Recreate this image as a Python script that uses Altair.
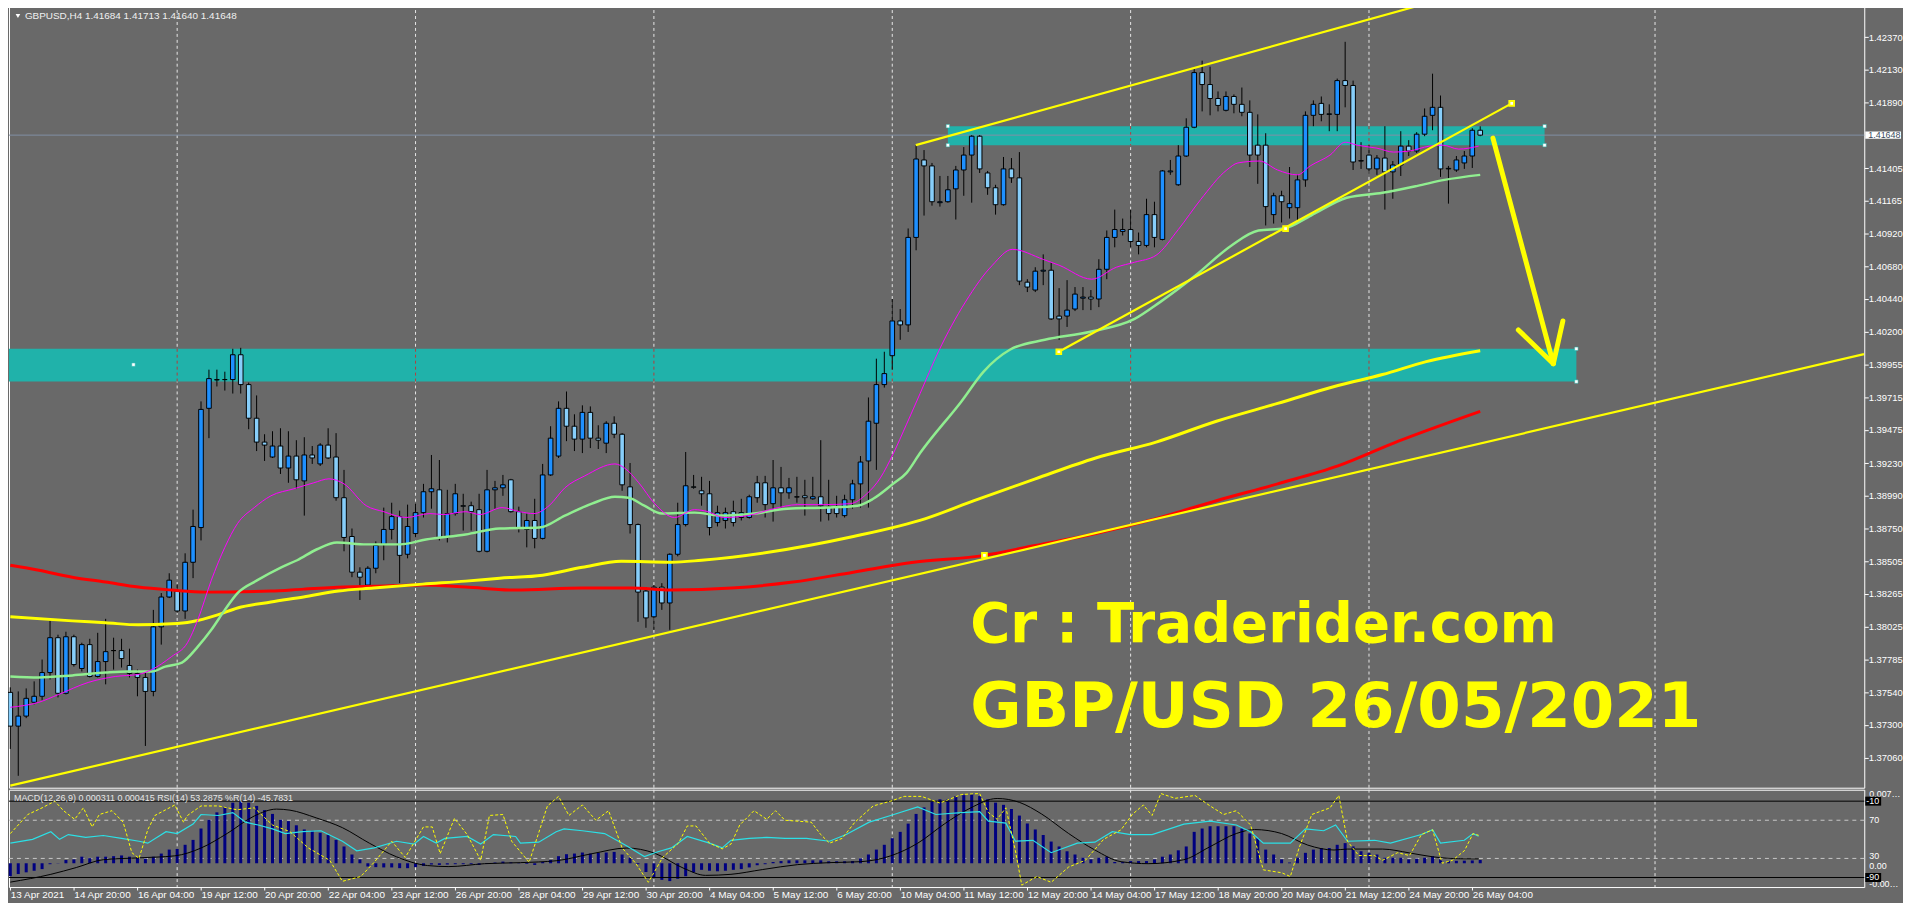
import altair as alt
import pandas as pd

# ---------------- candles (GBPUSD H4), bar index 0 = 13 Apr 2021 12:00 ----------------
OPEN = [1.37540, 1.37291, 1.37365, 1.37467, 1.37511, 1.37686, 1.37943, 1.37533, 1.37950, 1.37716,
        1.37892, 1.37657, 1.37767, 1.37848, 1.37848, 1.37738, 1.37679, 1.37650, 1.37547, 1.38023,
        1.38243, 1.38287, 1.38140, 1.38499, 1.38755, 1.39634, 1.39846, 1.39846, 1.39846, 1.40029,
        1.39809, 1.39561, 1.39385, 1.39275, 1.39356, 1.39194, 1.39282, 1.39099, 1.39290, 1.39224,
        1.39363, 1.39275, 1.38975, 1.38689, 1.38426, 1.38331, 1.38455, 1.38631, 1.38741, 1.38836,
        1.38558, 1.38711, 1.38865, 1.39019, 1.39033, 1.38682, 1.38858, 1.38916, 1.38916, 1.38887,
        1.38580, 1.39033, 1.39048, 1.39107, 1.38872, 1.38741, 1.38807, 1.38675, 1.39143, 1.39282,
        1.39634, 1.39502, 1.39407, 1.39604, 1.39414, 1.39377, 1.39524, 1.39443, 1.39055, 1.38777,
        1.38287, 1.38097, 1.38316, 1.38199, 1.38558, 1.38777, 1.39055, 1.39026, 1.39004, 1.38792,
        1.38807, 1.38872, 1.38829, 1.38829, 1.39085, 1.39085, 1.38931, 1.39048, 1.39011, 1.38982,
        1.38989, 1.38967, 1.38982, 1.38909, 1.38909, 1.38843, 1.38960, 1.39077, 1.39246, 1.39524,
        1.39809, 1.40022, 1.40278, 1.40249, 1.40894, 1.41465, 1.41421, 1.41150, 1.41157, 1.41252,
        1.41391, 1.41501, 1.41640, 1.41369, 1.41260, 1.41135, 1.41399, 1.41333, 1.40564, 1.40506,
        1.40645, 1.40652, 1.40314, 1.40314, 1.40366, 1.40446, 1.40454, 1.40440, 1.40659, 1.40894,
        1.40938, 1.40952, 1.40864, 1.40835, 1.41062, 1.40879, 1.41377, 1.41282, 1.41494, 1.41706,
        1.42109, 1.42021, 1.41918, 1.41831, 1.41933, 1.41875, 1.41816, 1.41574, 1.41574, 1.41062,
        1.41201, 1.41113, 1.41113, 1.41318, 1.41794, 1.41882, 1.41801, 1.41801, 1.42050, 1.42014,
        1.41457, 1.41501, 1.41399, 1.41479, 1.41377, 1.41428, 1.41567, 1.41531, 1.41655, 1.41794,
        1.41853, 1.41399, 1.41391, 1.41443, 1.41494, 1.41684]
HIGH = [1.37577, 1.37547, 1.37569, 1.37621, 1.37782, 1.38067, 1.37965, 1.37987, 1.37965, 1.37906,
        1.37935, 1.37979, 1.38082, 1.37943, 1.37935, 1.37862, 1.37708, 1.37686, 1.38148, 1.38272,
        1.38418, 1.38338, 1.38565, 1.38887, 1.39685, 1.39919, 1.39919, 1.39904, 1.40073, 1.40080,
        1.39824, 1.39729, 1.39443, 1.39465, 1.39487, 1.39465, 1.39399, 1.39421, 1.39356, 1.39377,
        1.39487, 1.39451, 1.39180, 1.38748, 1.38462, 1.38470, 1.38653, 1.38902, 1.38938, 1.38880,
        1.38924, 1.38931, 1.39077, 1.39290, 1.39253, 1.39033, 1.39077, 1.39004, 1.38946, 1.39004,
        1.39180, 1.39099, 1.39143, 1.39114, 1.38909, 1.38858, 1.38967, 1.39224, 1.39502, 1.39685,
        1.39758, 1.39590, 1.39656, 1.39648, 1.39509, 1.39539, 1.39575, 1.39451, 1.39231, 1.38785,
        1.38316, 1.38331, 1.38345, 1.38565, 1.38938, 1.39312, 1.39143, 1.39129, 1.39099, 1.38916,
        1.38902, 1.38953, 1.38967, 1.38997, 1.39136, 1.39136, 1.39253, 1.39202, 1.39121, 1.39129,
        1.39107, 1.39129, 1.39399, 1.39107, 1.38989, 1.38997, 1.39107, 1.39282, 1.39714, 1.40000,
        1.40051, 1.40440, 1.40366, 1.40960, 1.41574, 1.41538, 1.41443, 1.41347, 1.41347, 1.41421,
        1.41560, 1.41648, 1.41648, 1.41384, 1.41282, 1.41487, 1.41479, 1.41523, 1.40586, 1.40674,
        1.40769, 1.40711, 1.40520, 1.40579, 1.40528, 1.40528, 1.40506, 1.40733, 1.40945, 1.41099,
        1.41033, 1.41099, 1.40930, 1.41179, 1.41157, 1.41391, 1.41465, 1.41574, 1.41772, 1.42138,
        1.42197, 1.42153, 1.41970, 1.41970, 1.41948, 1.41999, 1.41904, 1.41801, 1.41662, 1.41223,
        1.41238, 1.41413, 1.41355, 1.41823, 1.41904, 1.41933, 1.41875, 1.42065, 1.42336, 1.42050,
        1.41596, 1.41574, 1.41501, 1.41714, 1.41457, 1.41677, 1.41611, 1.41670, 1.41845, 1.42101,
        1.41940, 1.41421, 1.41494, 1.41531, 1.41699, 1.41713]
LOW = [1.37123, 1.36925, 1.37350, 1.37452, 1.37482, 1.37635, 1.37503, 1.37525, 1.37730, 1.37694,
       1.37650, 1.37650, 1.37599, 1.37708, 1.37723, 1.37650, 1.37511, 1.37145, 1.37511, 1.37892,
       1.38235, 1.38126, 1.38082, 1.38382, 1.38660, 1.39414, 1.39795, 1.39765, 1.39743, 1.39743,
       1.39480, 1.39319, 1.39246, 1.39268, 1.39150, 1.39085, 1.39041, 1.38843, 1.39224, 1.39209,
       1.39260, 1.38953, 1.38580, 1.38389, 1.38221, 1.38316, 1.38418, 1.38514, 1.38667, 1.38345,
       1.38528, 1.38682, 1.38829, 1.38894, 1.38660, 1.38645, 1.38843, 1.38733, 1.38733, 1.38572,
       1.38572, 1.38894, 1.38989, 1.38865, 1.38719, 1.38609, 1.38602, 1.38667, 1.39136, 1.39268,
       1.39392, 1.39319, 1.39304, 1.39341, 1.39334, 1.39304, 1.39414, 1.39026, 1.38711, 1.38060,
       1.38016, 1.38001, 1.38148, 1.38001, 1.38543, 1.38763, 1.39041, 1.38916, 1.38697, 1.38763,
       1.38748, 1.38763, 1.38807, 1.38821, 1.38938, 1.38829, 1.38799, 1.38902, 1.38967, 1.38938,
       1.38843, 1.38960, 1.38799, 1.38807, 1.38829, 1.38829, 1.38894, 1.38902, 1.38902, 1.39180,
       1.39787, 1.39919, 1.40139, 1.40197, 1.40799, 1.41055, 1.41128, 1.41121, 1.41150, 1.41026,
       1.41201, 1.41150, 1.41369, 1.41208, 1.41062, 1.41128, 1.41296, 1.40542, 1.40491, 1.40491,
       1.40542, 1.40285, 1.40139, 1.40234, 1.40351, 1.40358, 1.40358, 1.40380, 1.40586, 1.40821,
       1.40908, 1.40821, 1.40769, 1.40821, 1.40821, 1.40872, 1.41355, 1.41274, 1.41487, 1.41699,
       1.41823, 1.41794, 1.41823, 1.41823, 1.41809, 1.41787, 1.41413, 1.41289, 1.40982, 1.40996,
       1.41004, 1.41033, 1.41018, 1.41267, 1.41714, 1.41750, 1.41677, 1.41677, 1.41853, 1.41391,
       1.41399, 1.41362, 1.41355, 1.41099, 1.41179, 1.41347, 1.41494, 1.41516, 1.41640, 1.41684,
       1.41340, 1.41143, 1.41377, 1.41399, 1.41406, 1.41640]
CLOSE = [1.37291, 1.37365, 1.37496, 1.37511, 1.37686, 1.37943, 1.37533, 1.37950, 1.37745, 1.37892,
         1.37657, 1.37767, 1.37840, 1.37848, 1.37789, 1.37679, 1.37650, 1.37547, 1.38023, 1.38243,
         1.38367, 1.38140, 1.38499, 1.38763, 1.39626, 1.39853, 1.39843, 1.39846, 1.40029, 1.39809,
         1.39561, 1.39385, 1.39363, 1.39356, 1.39194, 1.39282, 1.39107, 1.39290, 1.39268, 1.39363,
         1.39268, 1.38975, 1.38682, 1.38426, 1.38389, 1.38455, 1.38624, 1.38741, 1.38836, 1.38550,
         1.38763, 1.38865, 1.39019, 1.39041, 1.38682, 1.38858, 1.39004, 1.38912, 1.38872, 1.38580,
         1.39033, 1.39048, 1.39070, 1.38872, 1.38748, 1.38807, 1.38675, 1.39143, 1.39414, 1.39634,
         1.39502, 1.39407, 1.39604, 1.39414, 1.39399, 1.39524, 1.39443, 1.39070, 1.38777, 1.38279,
         1.38089, 1.38316, 1.38199, 1.38558, 1.38777, 1.39063, 1.39052, 1.39004, 1.38755, 1.38865,
         1.38865, 1.38792, 1.38865, 1.38982, 1.38975, 1.38924, 1.39048, 1.39011, 1.39048, 1.38980,
         1.38975, 1.38982, 1.38916, 1.38858, 1.38858, 1.38960, 1.39077, 1.39238, 1.39539, 1.39809,
         1.39890, 1.40278, 1.40249, 1.40894, 1.41472, 1.41421, 1.41157, 1.41157, 1.41245, 1.41391,
         1.41501, 1.41640, 1.41399, 1.41260, 1.41135, 1.41399, 1.41333, 1.40572, 1.40528, 1.40645,
         1.40652, 1.40293, 1.40293, 1.40358, 1.40476, 1.40454, 1.40440, 1.40659, 1.40894, 1.40952,
         1.40952, 1.40864, 1.40835, 1.41062, 1.40894, 1.41384, 1.41384, 1.41494, 1.41706, 1.42109,
         1.42021, 1.41918, 1.41867, 1.41933, 1.41875, 1.41816, 1.41501, 1.41501, 1.41121, 1.41201,
         1.41157, 1.41143, 1.41318, 1.41794, 1.41875, 1.41801, 1.41805, 1.42050, 1.42014, 1.41450,
         1.41460, 1.41399, 1.41479, 1.41377, 1.41428, 1.41567, 1.41531, 1.41655, 1.41787, 1.41853,
         1.41399, 1.41403, 1.41465, 1.41494, 1.41684, 1.41648]

# ---------------- moving averages (bar, price) ----------------
MA_MAG_BAR = [0, 3.6, 6.1, 9.8, 13.2, 16.1, 17.8, 20.3, 22.3, 23.6, 25.3, 27.0, 28.6, 30.7, 32.8,
              35.7, 38.2, 40.1, 42.0, 44.8, 47.0, 49.8, 52.8, 54.5, 57.3, 59.1, 61.9, 64.1, 65.9,
              67.8, 69.8, 72.3, 76.1, 77.3, 79.1, 81.1, 83.6, 86.1, 87.8, 89.8, 92.8, 96.1, 99.1,
              102.3, 105.7, 107.8, 109.5, 111.1, 112.8, 114.5, 116.8, 120.2, 123.6, 126.1, 130.0,
              132.0, 136.1, 139.2, 141.5, 144.2, 147.0, 149.8, 153.1, 154.5, 157.2, 159.5, 162.0,
              163.6, 166.1, 168.0, 169.5, 172.0, 174.1, 176.1, 178.6, 180.3, 182.3, 184.8]
MA_MAG_P = [1.37430, 1.37467, 1.37525, 1.37613, 1.37657, 1.37672, 1.37708, 1.37804, 1.37906, 1.38075,
            1.38367, 1.38609, 1.38785, 1.38902, 1.38989, 1.39041, 1.39085, 1.39114, 1.39077, 1.38916,
            1.38872, 1.38829, 1.38858, 1.38851, 1.38872, 1.38851, 1.38902, 1.38872, 1.38858, 1.38916,
            1.39048, 1.39136, 1.39224, 1.39194, 1.39085, 1.38931, 1.38829, 1.38887, 1.38872, 1.38829,
            1.38843, 1.38894, 1.38924, 1.38924, 1.38931, 1.39004, 1.39121, 1.39297, 1.39517, 1.39743,
            1.40051, 1.40417, 1.40689, 1.40806, 1.40732, 1.40689, 1.40586, 1.40674, 1.40711, 1.40762,
            1.40952, 1.41172, 1.41391, 1.41443, 1.41457, 1.41391, 1.41355, 1.41421, 1.41501, 1.41596,
            1.41574, 1.41552, 1.41523, 1.41531, 1.41567, 1.41574, 1.41545, 1.41567]
MA_GRN_BAR = [0, 3.6, 7.8, 12.0, 14.8, 17.8, 19.5, 21.6, 23.6, 25.3, 27.0, 28.6, 31.1, 34.1, 36.1,
              38.6, 41.1, 44.8, 49.1, 52.3, 57.3, 61.6, 66.6, 69.8, 73.2, 76.1, 77.8, 79.8, 82.0,
              86.1, 89.5, 93.6, 97.8, 102.8, 106.6, 108.6, 111.1, 112.8, 114.5, 119.7, 122.5, 125.8,
              130.2, 135.8, 141.5, 144.7, 149.2, 153.7, 157.1, 160.3, 163.7, 168.2, 172.7, 177.1,
              180.5, 185.0]
MA_GRN_P = [1.37657, 1.37650, 1.37665, 1.37686, 1.37694, 1.37694, 1.37730, 1.37760, 1.37877, 1.38001,
            1.38148, 1.38272, 1.38367, 1.38462, 1.38514, 1.38595, 1.38645, 1.38631, 1.38631, 1.38667,
            1.38704, 1.38748, 1.38755, 1.38843, 1.38931, 1.38982, 1.38975, 1.38916, 1.38858, 1.38865,
            1.38843, 1.38858, 1.38894, 1.38902, 1.38916, 1.38967, 1.39077, 1.39158, 1.39304, 1.39685,
            1.39905, 1.40066, 1.40139, 1.40197, 1.40293, 1.40417, 1.40615, 1.40835, 1.40945, 1.40960,
            1.41055, 1.41186, 1.41223, 1.41274, 1.41318, 1.41355]
MA_YLW_BAR = [0, 7.8, 12.0, 16.1, 20.3, 22.8, 26.1, 28.6, 32.8, 36.9, 41.3, 45.7, 51.9, 57.3, 61.6,
              67.0, 72.0, 76.9, 83.2, 87.0, 106.1, 115.2, 121.3, 129.0, 136.6, 144.2, 151.8, 159.5,
              167.1, 172.7, 178.2, 185.0]
MA_YLW_P = [1.38097, 1.38067, 1.38053, 1.38038, 1.38045, 1.38060, 1.38111, 1.38162, 1.38206, 1.38243,
            1.38287, 1.38309, 1.38338, 1.38360, 1.38382, 1.38404, 1.38462, 1.38506, 1.38499, 1.38514,
            1.38689, 1.38821, 1.38953, 1.39114, 1.39268, 1.39385, 1.39539, 1.39670, 1.39802, 1.39883,
            1.39978, 1.40059]
MA_RED_BAR = [0, 3.6, 7.8, 12.0, 16.1, 20.3, 24.5, 32.8, 36.9, 42.0, 46.1, 51.9, 57.3, 63.6, 72.0,
              78.2, 83.2, 90.8, 98.5, 106.1, 113.7, 122.6, 129.0, 136.6, 144.2, 151.8, 159.5, 167.1,
              174.7, 185.0]
MA_RED_P = [1.38477, 1.38440, 1.38389, 1.38353, 1.38316, 1.38294, 1.38279, 1.38287, 1.38301, 1.38316,
            1.38323, 1.38331, 1.38316, 1.38294, 1.38309, 1.38309, 1.38294, 1.38309, 1.38353, 1.38426,
            1.38499, 1.38550, 1.38623, 1.38711, 1.38821, 1.38953, 1.39077, 1.39209, 1.39392, 1.39612]

# ---------------- drawn objects (bar, price) ----------------
TREND_X1 = [0.0, 113.96, 131.96]
TREND_P1 = [1.36852, 1.41574, 1.40051]
TREND_X2 = [233.3, 190.0, 188.96]
TREND_P2 = [1.40034, 1.42810, 1.41882]
ANCHOR_X = [131.96, 160.5, 188.96, 122.6]
ANCHOR_P = [1.40051, 1.40959, 1.41882, 1.38550]
ARROW_X1 = [186.6, 189.8, 195.4]
ARROW_P1 = [1.41626, 1.40212, 1.40278]
ARROW_X2 = [194.2, 194.2, 194.2]
ARROW_P2 = [1.39963, 1.39963, 1.39963]
ZONE_X1 = [-5.0, 118.0]
ZONE_X2 = [197.1, 193.1]
ZONE_TOP = [1.40073, 1.41714]
ZONE_BOT = [1.39831, 1.41574]
HANDLE_X = [15.5, 197.1, 197.1, 118.0, 118.0, 193.1, 193.1]
HANDLE_P = [1.39956, 1.40073, 1.39831, 1.41714, 1.41574, 1.41714, 1.41574]
LAST_PRICE = 1.41648
SEPARATORS = [21, 51, 81, 111, 141, 171, 207]

Y_TICKS = [1.42370, 1.42130, 1.41890, 1.41405, 1.41165, 1.40920, 1.40680, 1.40440, 1.40200,
           1.39955, 1.39715, 1.39475, 1.39230, 1.38990, 1.38750, 1.38505, 1.38265, 1.38025,
           1.37785, 1.37540, 1.37300, 1.37060, 1.36815]
X_LABELS = ["13 Apr 2021", "14 Apr 20:00", "16 Apr 04:00", "19 Apr 12:00", "20 Apr 20:00",
            "22 Apr 04:00", "23 Apr 12:00", "26 Apr 20:00", "28 Apr 04:00", "29 Apr 12:00",
            "30 Apr 20:00", "4 May 04:00", "5 May 12:00", "6 May 20:00", "10 May 04:00",
            "11 May 12:00", "12 May 20:00", "14 May 04:00", "17 May 12:00", "18 May 20:00",
            "20 May 04:00", "21 May 12:00", "24 May 20:00", "26 May 04:00"]
BIG_TEXT = ["Cr : Traderider.com", "GBP/USD 26/05/2021"]
BIG_SIZE = [55, 63]
BIG_X = [120.8, 120.8]
BIG_P = [1.37913, 1.37284]
HEADER = "GBPUSD,H4  1.41684 1.41713 1.41640 1.41648"
SUB_HEADER = "MACD(12,26,9) 0.000311 0.000415  RSI(14) 53.2875  %R(14) -45.7831"

# ---------------- indicators ----------------
MACD_HIST = [-0.00124, -0.00103, -0.00087, -0.00072, -0.00056, -0.00009, 0.00002, 0.00031, 0.00037, 0.00063,
             0.00049, 0.00063, 0.00063, 0.00068, 0.00075, 0.00063, 0.00053, 0.00044, 0.00063, 0.00093,
             0.00131, 0.00137, 0.00177, 0.00224, 0.00333, 0.00417, 0.00488, 0.00541, 0.00581, 0.00591,
             0.00581, 0.00550, 0.00510, 0.00473, 0.00417, 0.00404, 0.00364, 0.00324, 0.00311, 0.00292,
             0.00271, 0.00224, 0.00161, 0.00084, 0.00037, -0.00031, -0.00037, -0.00040, -0.00040, -0.00047,
             -0.00047, -0.00037, -0.00025, -0.00012, -0.00016, -0.00012, -0.00009, -0.00009, -0.00009, -0.00016,
             -0.00007, 0.00007, 0.00016, 0.00009, -0.00003, -0.00007, -0.00016, 0.00012, 0.00031, 0.00068,
             0.00087, 0.00093, 0.00103, 0.00093, 0.00100, 0.00103, 0.00109, 0.00084, 0.00053, -0.00009,
             -0.00084, -0.00133, -0.00159, -0.00171, -0.00149, -0.00124, -0.00087, -0.00063, -0.00072, -0.00077,
             -0.00072, -0.00063, -0.00056, -0.00040, -0.00019, -0.00009, 0.00012, 0.00021, 0.00028, 0.00028,
             0.00028, 0.00028, 0.00028, 0.00019, 0.00019, 0.00019, 0.00021, 0.00047, 0.00084, 0.00131,
             0.00177, 0.00240, 0.00301, 0.00380, 0.00473, 0.00535, 0.00591, 0.00613, 0.00613, 0.00644,
             0.00653, 0.00665, 0.00644, 0.00613, 0.00581, 0.00560, 0.00520, 0.00457, 0.00380, 0.00324,
             0.00271, 0.00208, 0.00161, 0.00115, 0.00084, 0.00053, 0.00037, 0.00053, 0.00063, 0.00012,
             0.00012, 0.00021, 0.00021, 0.00021, 0.00037, 0.00063, 0.00084, 0.00124, 0.00161, 0.00301,
             0.00333, 0.00355, 0.00355, 0.00355, 0.00355, 0.00333, 0.00286, 0.00240, 0.00131, 0.00084,
             0.00037, 0.00007, 0.00053, 0.00100, 0.00131, 0.00146, 0.00146, 0.00177, 0.00193, 0.00161,
             0.00115, 0.00100, 0.00084, 0.00053, 0.00053, 0.00053, 0.00037, 0.00044, 0.00053, 0.00068,
             0.00037, 0.00021, 0.00023, 0.00025, 0.00027, 0.00031]
SIG_BAR = [0, 5.1, 8.3, 11.7, 16.2, 20.7, 24.0, 27.3, 30.7, 33.5, 35.2, 38.5, 41.8, 45.2, 48.6,
           52.5, 55.2, 59.7, 64.2, 68.7, 73.1, 77.6, 81.0, 84.8, 87.5, 90.7, 94.7, 99.1, 103.1,
           107.0, 110.8, 114.2, 117.6, 120.8, 124.2, 127.0, 129.8, 133.2, 136.5, 139.8, 143.2,
           147.7, 150.9, 154.3, 156.6, 160.0, 163.3, 166.6, 168.3, 172.7, 176.1, 179.0, 182.5, 184.8]
SIG_VAL = [-0.00181, -0.00106, -0.00041, 0.00034, 0.00052, 0.00071, 0.00146, 0.00286, 0.00453, 0.00519,
           0.00509, 0.00435, 0.00341, 0.00192, 0.00062, -0.00022, -0.00032, -0.00004, 0.00006, 0.00024,
           0.00090, 0.00146, 0.00099, -0.00050, -0.00116, -0.00106, -0.00060, -0.00013, 0.00006, 0.00015,
           0.00071, 0.00192, 0.00379, 0.00528, 0.00621, 0.00584, 0.00472, 0.00285, 0.00127, 0.00015,
           -0.00004, 0.00034, 0.00155, 0.00285, 0.00323, 0.00285, 0.00174, 0.00127, 0.00136, 0.00136,
           0.00099, 0.00062, 0.00043, 0.000415]
RSI_BAR = [0, 2.8, 5.1, 6.2, 7.3, 9.5, 11.7, 14.0, 16.2, 17.3, 19.6, 21.0, 23.0, 24.0, 26.2, 28.0,
           29.6, 31.2, 33.0, 34.6, 36.8, 39.1, 41.8, 43.6, 45.8, 48.6, 50.8, 52.0, 53.6, 54.7, 57.5,
           59.2, 60.8, 63.6, 64.2, 66.5, 68.7, 69.7, 72.0, 74.8, 77.6, 79.8, 81.5, 83.2, 85.2, 88.0,
           89.6, 90.7, 93.0, 95.2, 97.5, 100.2, 103.1, 105.2, 108.1, 110.8, 114.2, 116.5, 119.7,
           122.0, 123.1, 125.3, 126.5, 128.7, 131.0, 134.3, 136.5, 138.7, 141.0, 143.7, 147.7, 151.0,
           154.3, 156.1, 157.7, 161.1, 163.0, 165.3, 166.8, 168.3, 171.7, 173.7, 177.6, 179.0, 180.0,
           183.0, 184.1, 184.8]
RSI_VAL = [46, 50, 58, 50, 55, 52, 54, 51, 48, 46, 58, 56, 66, 76, 75, 78, 68, 65, 61, 56, 58, 59,
           48, 38, 41, 48, 45, 53, 46, 51, 53, 45, 55, 53, 46, 47, 58, 61, 59, 56, 43, 32, 37, 41,
           53, 46, 41, 49, 51, 52, 51, 51, 48, 55, 68, 75, 84, 76, 78, 79, 69, 67, 48, 49, 36, 46,
           47, 58, 55, 55, 66, 69, 65, 58, 46, 46, 61, 59, 65, 48, 49, 46, 55, 60, 46, 49, 56, 53.3]
WPR_BAR = [0, 1.1, 2.2, 4.0, 5.6, 6.7, 8.1, 9.2, 10.3, 11.2, 12.8, 14.2, 15.3, 16.2, 17.3, 18.2,
           20.7, 21.8, 22.3, 24.0, 26.2, 28.5, 30.7, 33.0, 35.2, 37.5, 40.2, 41.8, 44.1, 45.8, 48.0,
           49.7, 52.0, 53.1, 54.1, 55.9, 57.5, 59.2, 60.3, 62.0, 63.1, 65.3, 67.6, 69.0, 70.3, 72.0,
           73.7, 75.3, 77.0, 78.7, 80.3, 82.1, 84.1, 85.2, 86.3, 88.0, 89.6, 90.7, 91.8, 93.6, 95.2,
           96.3, 97.5, 100.8, 102.0, 103.1, 104.7, 106.3, 108.6, 110.8, 112.5, 114.7, 117.0, 119.7,
           122.0, 123.1, 124.2, 125.3, 126.5, 127.3, 129.2, 131.0, 133.2, 135.3, 137.6, 139.8, 141.2,
           142.6, 143.7, 144.8, 146.6, 149.1, 151.0, 152.7, 154.3, 156.1, 157.7, 160.0, 161.1, 162.2,
           163.8, 166.1, 167.2, 168.3, 169.7, 171.7, 172.7, 174.6, 176.1, 177.6, 179.0, 180.2, 181.5,
           183.0, 184.1, 184.8]
WPR_VAL = [-44, -34, -24, -17, -10, -20, -29, -17, -37, -24, -20, -32, -64, -70, -40, -25, -14, -32,
           -25, -15, -15, -19, -17, -35, -42, -59, -72, -94, -89, -74, -52, -69, -37, -37, -65, -28,
           -45, -72, -25, -24, -52, -74, -15, -5, -25, -14, -30, -20, -59, -75, -95, -69, -54, -36,
           -36, -54, -60, -55, -35, -20, -29, -20, -30, -32, -45, -54, -49, -32, -15, -10, -5, -5,
           -12, -3, -2, -22, -29, -17, -62, -98, -89, -95, -79, -72, -50, -40, -24, -14, -25, -2,
           -7, -4, -15, -24, -20, -35, -82, -85, -89, -59, -24, -17, -4, -52, -67, -67, -72, -64,
           -67, -45, -40, -75, -72, -62, -44, -45.8]
RSI_LEVELS_SOLID = [90, 10]   # %R -10 / -90
RSI_LEVELS_DASH = [70, 30]

# ---------------- style ----------------
BG = "#696969"
BULL = "#1E90FF"
BEAR = "#87CEFA"
YELLOW = "#FFFF00"
FONT = "Liberation Sans"
W = 1868
H_MAIN = 789
H_IND = 98

XS = alt.Scale(domain=[-0.166, 233.334], nice=False, zero=False)
YS = alt.Scale(domain=[1.36837, 1.42614], nice=False, zero=False)
MS = alt.Scale(domain=[-0.00228, 0.007051], nice=False, zero=False)
RS = alt.Scale(domain=[0, 102], nice=False, zero=False)

YAX = alt.Axis(orient="right", values=Y_TICKS, format=".5f", tickSize=4, tickColor="white",
               labelColor="white", labelFontSize=9.5, labelFont=FONT, labelPadding=0,
               domain=False, grid=False, title=None, labelOverlap=False, labelFlush=False)
label_expr = "[" + ",".join("'%s'" % s for s in X_LABELS) + "][round(datum.value / 8)]"
XAX = alt.Axis(values=list(range(0, 185, 8)), labelExpr=label_expr, labelAlign="left",
               labelBaseline="top", tickSize=3, tickColor="white", labelColor="white",
               labelFontSize=10, labelFont=FONT, labelPadding=0, domain=False, grid=False,
               title=None, labelOverlap=False, labelFlush=False)


def xm(f):
    return alt.X(f, type="quantitative", scale=XS, axis=None, title=None)


def xi(f):
    return alt.X(f, type="quantitative", scale=XS, axis=XAX, title=None)


def ym(f):
    return alt.Y(f, type="quantitative", scale=YS, axis=YAX, title=None)


def yi(f, scale):
    return alt.Y(f, type="quantitative", scale=scale, axis=None, title=None)


# ---------------- main panel ----------------
candles = pd.DataFrame({"i": list(range(len(OPEN))), "o": OPEN, "h": HIGH, "l": LOW, "c": CLOSE})
sep_df = pd.DataFrame({"b": SEPARATORS})
zone_df = pd.DataFrame({"x1": ZONE_X1, "x2": ZONE_X2, "t": ZONE_TOP, "b": ZONE_BOT})
sep_in_zone = pd.DataFrame(
    [{"s": s, "t": z.t, "b": z.b} for s in SEPARATORS for z in zone_df.itertuples() if z.x1 <= s <= z.x2])

seps = alt.Chart(sep_df).mark_rule(color="#E8E8E8", strokeDash=[3, 3], strokeWidth=1).encode(x=xm("b"))

zones = alt.Chart(zone_df).mark_rect(color="#20B2AA", clip=True).encode(
    x=xm("x1"), x2="x2:Q", y=ym("t"), y2="b:Q")

zone_seps = alt.Chart(sep_in_zone).mark_rule(color="#B83A3A", strokeDash=[3, 3], strokeWidth=1).encode(
    x=xm("s"), y=ym("t"), y2="b:Q")

price_line = alt.Chart(pd.DataFrame({"p": [LAST_PRICE]})).mark_rule(color="#8190A4", strokeWidth=1).encode(
    y=ym("p"))

wicks = alt.Chart(candles).mark_rule(color="black", strokeWidth=1).encode(
    x=xm("i"), y=ym("l"), y2="h:Q")

bodies = alt.Chart(candles).transform_calculate(
    x1="datum.i - 0.29", x2="datum.i + 0.29").mark_rect(stroke="black", strokeWidth=1).encode(
    x=xm("x1"), x2="x2:Q", y=ym("o"), y2="c:Q",
    color=alt.condition("datum.c >= datum.o", alt.value(BULL), alt.value(BEAR)))


def ma_line(bars, prices, color, width):
    d = pd.DataFrame({"b": bars, "p": prices})
    return alt.Chart(d).mark_line(color=color, strokeWidth=width, interpolate="monotone").encode(
        x=xm("b"), y=ym("p"))


ma_red = ma_line(MA_RED_BAR, MA_RED_P, "#FF0000", 3)
ma_ylw = ma_line(MA_YLW_BAR, MA_YLW_P, YELLOW, 3)
ma_grn = ma_line(MA_GRN_BAR, MA_GRN_P, "#90EE90", 2.5)
ma_mag = ma_line(MA_MAG_BAR, MA_MAG_P, "#FF00FF", 1)

trends = alt.Chart(pd.DataFrame({"x1": TREND_X1, "p1": TREND_P1, "x2": TREND_X2, "p2": TREND_P2})).mark_rule(
    color=YELLOW, strokeWidth=2.2, clip=True).encode(x=xm("x1"), x2="x2:Q", y=ym("p1"), y2="p2:Q")

arrow = alt.Chart(pd.DataFrame({"x1": ARROW_X1, "p1": ARROW_P1, "x2": ARROW_X2, "p2": ARROW_P2})).mark_rule(
    color=YELLOW, strokeWidth=5, strokeCap="round").encode(x=xm("x1"), x2="x2:Q", y=ym("p1"), y2="p2:Q")

anchors = alt.Chart(pd.DataFrame({"b": ANCHOR_X, "p": ANCHOR_P})).mark_square(
    size=22, fill="white", stroke=YELLOW, strokeWidth=2, opacity=1).encode(x=xm("b"), y=ym("p"))

handles = alt.Chart(pd.DataFrame({"b": HANDLE_X, "p": HANDLE_P})).mark_square(
    size=12, fill="white", stroke="#20B2AA", strokeWidth=0.5, opacity=1).encode(x=xm("b"), y=ym("p"))

big_df = pd.DataFrame({"t": BIG_TEXT, "s": BIG_SIZE, "b": BIG_X, "p": BIG_P})
big_text = alt.Chart(big_df).mark_text(
    align="left", baseline="alphabetic", font="DejaVu Sans", fontWeight="bold", color=YELLOW).encode(
    x=xm("b"), y=ym("p"), text="t:N", size=alt.Size("s:Q", scale=None, legend=None))

header = alt.Chart(pd.DataFrame({"t": [HEADER]})).mark_text(
    align="left", baseline="middle", font=FONT, fontSize=10, color="#F0F0F0").encode(
    x=alt.value(16), y=alt.value(12), text="t:N")
header_tri = alt.Chart(pd.DataFrame({"t": [0]})).mark_point(
    shape="triangle-down", filled=True, color="white", size=22, opacity=1).encode(
    x=alt.value(9), y=alt.value(12))

box_df = pd.DataFrame({"p": [LAST_PRICE], "t": ["%.5f" % LAST_PRICE]})
price_box = alt.Chart(box_df).transform_calculate(
    p1="datum.p + 0.00027", p2="datum.p - 0.00027").mark_rect(color="white").encode(
    x=alt.value(1869), x2=alt.value(1905), y=ym("p1"), y2="p2:Q")
price_txt = alt.Chart(box_df).mark_text(
    align="left", baseline="middle", font=FONT, fontSize=9, color="#3A4A5C").encode(
    x=alt.value(1872), y=ym("p"), text="t:N")

main = alt.layer(
    seps, zones, zone_seps, price_line, wicks, bodies, ma_red, ma_ylw, ma_grn, ma_mag,
    trends, arrow, anchors, handles, big_text, header, header_tri, price_box, price_txt
).properties(width=W, height=H_MAIN)

# ---------------- indicator panel ----------------
hist_df = pd.DataFrame({"i": list(range(len(MACD_HIST))), "m": MACD_HIST})
ind_seps = alt.Chart(sep_df).mark_rule(color="#E8E8E8", strokeDash=[3, 3], strokeWidth=1).encode(
    x=xi("b"))

lvl_solid = alt.Chart(pd.DataFrame({"v": RSI_LEVELS_SOLID})).mark_rule(color="black", strokeWidth=1).encode(
    y=yi("v", RS))
lvl_dash = alt.Chart(pd.DataFrame({"v": RSI_LEVELS_DASH})).mark_rule(
    color="#C8C8C8", strokeWidth=1, strokeDash=[4, 4]).encode(y=yi("v", RS))

hist = alt.Chart(hist_df).transform_calculate(
    x1="datum.i - 0.19", x2="datum.i + 0.19", z="0").mark_rect(color="#000080").encode(
    x=xi("x1"), x2="x2:Q", y=yi("z", MS), y2="m:Q")

signal = alt.Chart(pd.DataFrame({"b": SIG_BAR, "m": SIG_VAL})).mark_line(
    color="black", strokeWidth=1, interpolate="monotone").encode(x=xi("b"), y=yi("m", MS))
rsi = alt.Chart(pd.DataFrame({"b": RSI_BAR, "v": RSI_VAL})).mark_line(
    color="#2BE0E6", strokeWidth=1.2).encode(x=xi("b"), y=yi("v", RS))
wpr = alt.Chart(pd.DataFrame({"b": WPR_BAR, "r": WPR_VAL})).transform_calculate(
    v="datum.r + 100").mark_line(color=YELLOW, strokeWidth=1, strokeDash=[3, 2]).encode(
    x=xi("b"), y=yi("v", RS))

sub_header = alt.Chart(pd.DataFrame({"t": [SUB_HEADER]})).mark_text(
    align="left", baseline="middle", font=FONT, fontSize=9, color="#E6E6E6").encode(
    x=alt.value(5), y=alt.value(8), text="t:N")

edge_lbl = alt.Chart(pd.DataFrame({"t": ["0.007051", "-0.00228"], "y": [4, 95]})).mark_text(
    align="left", baseline="middle", font=FONT, fontSize=9, color="white", limit=33, ellipsis="").encode(
    x=alt.value(1873), y=alt.Y("y:Q", scale=None), text="t:N")
rsi_lbl = alt.Chart(pd.DataFrame({"t": ["70", "30"], "v": [70, 32]})).mark_text(
    align="left", baseline="middle", font=FONT, fontSize=9, color="white").encode(
    x=alt.value(1873), y=yi("v", RS), text="t:N")
zero_lbl = alt.Chart(pd.DataFrame({"t": ["0.00"], "m": [-0.00028]})).mark_text(
    align="left", baseline="middle", font=FONT, fontSize=9, color="white").encode(
    x=alt.value(1873), y=yi("m", MS), text="t:N")
lvl_box = alt.Chart(pd.DataFrame({"v": RSI_LEVELS_SOLID})).transform_calculate(
    v1="datum.v + 4.7", v2="datum.v - 4.7").mark_rect(color="black").encode(
    x=alt.value(1869), x2=alt.value(1885), y=yi("v1", RS), y2="v2:Q")
lvl_txt = alt.Chart(pd.DataFrame({"t": ["-10", "-90"], "v": RSI_LEVELS_SOLID})).mark_text(
    align="left", baseline="middle", font=FONT, fontSize=9, color="white").encode(
    x=alt.value(1870), y=yi("v", RS), text="t:N")

ind = alt.layer(
    ind_seps, lvl_dash, hist, lvl_solid, signal, rsi, wpr, sub_header,
    edge_lbl, rsi_lbl, zero_lbl, lvl_box, lvl_txt
).resolve_scale(y="independent").properties(width=W, height=H_IND)

chart = alt.vconcat(main, ind, spacing=2, bounds="flush").properties(
    padding={"left": -5, "top": -8, "right": 0, "bottom": -1}
).configure(background=BG).configure_view(stroke="white", strokeWidth=1)

chart.save("out.html", embed_options={"renderer": "svg", "actions": False})
